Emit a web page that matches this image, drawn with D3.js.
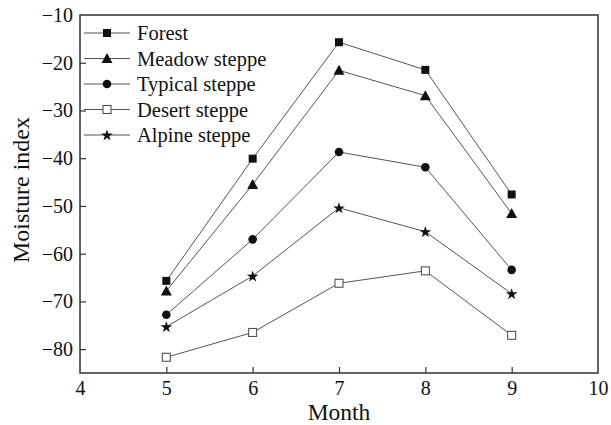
<!DOCTYPE html>
<html>
<head>
<meta charset="utf-8">
<script src="https://cdn.jsdelivr.net/npm/d3@7"></script>
<style>
  html, body { margin: 0; padding: 0; background: #fff; }
  svg { display: block; font-family: "Liberation Serif", "Times New Roman", serif; }
</style>
</head>
<body>
<svg id="chart" width="611" height="425"></svg>
<script>
// Monthly moisture index by vegetation type
const months = [5, 6, 7, 8, 9];
const seriesNames = ["Forest", "Meadow steppe", "Typical steppe", "Desert steppe", "Alpine steppe"];
const forest        = [-65.7, -40.1, -15.7, -21.5, -47.6];
const meadowSteppe  = [-67.8, -45.5, -21.6, -26.9, -51.6];
const typicalSteppe = [-72.8, -57.0, -38.7, -41.9, -63.4];
const desertSteppe  = [-81.7, -76.5, -66.2, -63.6, -77.1];
const alpineSteppe  = [-75.3, -64.7, -50.4, -55.4, -68.4];
const xTicks = [4, 5, 6, 7, 8, 9, 10];
const yTicks = [-80, -70, -60, -50, -40, -30, -20, -10];

const seriesValues = [forest, meadowSteppe, typicalSteppe, desertSteppe, alpineSteppe];
const markerTypes = ["square", "triangle", "circle", "openSquare", "star"];

const svg = d3.select("#chart");
const m = { left: 80, right: 13, top: 15, bottom: 52 };
const W = 611, H = 425;

const x = d3.scaleLinear().domain([4, 10]).range([m.left, W - m.right]);
const y = d3.scaleLinear().domain([-85, -10]).range([H - m.bottom, m.top]);

const lineColor = "#555";
const fmt = d3.format("d");

// axes with inward ticks
const xAxis = svg.append("g")
  .attr("transform", `translate(0,${H - m.bottom})`)
  .call(d3.axisBottom(x).tickValues(xTicks).tickFormat(fmt).tickSizeInner(-6).tickSizeOuter(0).tickPadding(8));
const yAxis = svg.append("g")
  .attr("transform", `translate(${m.left},0)`)
  .call(d3.axisLeft(y).tickValues(yTicks).tickFormat(fmt).tickSizeInner(-6).tickSizeOuter(0).tickPadding(7));

[xAxis, yAxis].forEach(g => {
  g.select(".domain").remove();
  g.selectAll(".tick line").attr("stroke", "#333").attr("stroke-width", 1.2);
  g.selectAll(".tick text")
    .attr("fill", "#111")
    .style("font-family", "'Liberation Serif', serif")
    .style("font-size", "20px");
});
xAxis.selectAll(".tick line").filter(d => d === 4 || d === 10).remove();
yAxis.selectAll(".tick line").filter(d => d === -10).remove();

// frame
svg.append("rect")
  .attr("x", x(4)).attr("y", y(-10))
  .attr("width", x(10) - x(4)).attr("height", y(-85) - y(-10))
  .attr("fill", "none").attr("stroke", "#333").attr("stroke-width", 1.5);

// axis titles
svg.append("text")
  .attr("x", (x(4) + x(10)) / 2).attr("y", 419.5)
  .attr("text-anchor", "middle")
  .style("font-size", "23.5px").attr("fill", "#111")
  .text("Month");
svg.append("text")
  .attr("transform", `translate(29,${(y(-10) + y(-85)) / 2 - 4}) rotate(-90)`)
  .attr("text-anchor", "middle")
  .style("font-size", "24px").attr("fill", "#111")
  .text("Moisture index");

function drawMarker(g, type, cx, cy) {
  if (type === "square") {
    g.append("rect").attr("x", cx - 4).attr("y", cy - 4).attr("width", 8).attr("height", 8).attr("fill", "#111");
  } else if (type === "openSquare") {
    g.append("rect").attr("x", cx - 4).attr("y", cy - 4).attr("width", 8).attr("height", 8)
      .attr("fill", "#fff").attr("stroke", "#444").attr("stroke-width", 1);
  } else if (type === "circle") {
    g.append("circle").attr("cx", cx).attr("cy", cy).attr("r", 4.3).attr("fill", "#111");
  } else if (type === "triangle") {
    g.append("path").attr("transform", `translate(${cx},${cy})`)
      .attr("d", "M0,-5.5 L5.5,4.5 L-5.5,4.5 Z").attr("fill", "#111");
  } else if (type === "star") {
    g.append("path").attr("transform", `translate(${cx},${cy + 0.5})`)
      .attr("d", d3.symbol(d3.symbolStar, 42)()).attr("fill", "#111");
  }
}

const line = d3.line().x((d, i) => x(months[i])).y(d => y(d));

const plot = svg.append("g");
seriesValues.forEach((vals) => {
  plot.append("path").datum(vals)
    .attr("d", line)
    .attr("fill", "none").attr("stroke", lineColor).attr("stroke-width", 1);
});
seriesValues.forEach((vals, si) => {
  const g = plot.append("g");
  vals.forEach((v, i) => drawMarker(g, markerTypes[si], x(months[i]), y(v)));
});

// legend
const legend = svg.append("g");
const legRows = [33, 58.5, 84, 109.5, 135];
seriesNames.forEach((name, si) => {
  const ly = legRows[si];
  legend.append("line").attr("x1", 84).attr("x2", 130).attr("y1", ly).attr("y2", ly)
    .attr("stroke", lineColor).attr("stroke-width", 1);
  drawMarker(legend, markerTypes[si], 107, ly);
  legend.append("text").attr("x", 137).attr("y", ly + 7)
    .style("font-size", "20.5px").attr("fill", "#111")
    .text(name);
});
</script>
</body>
</html>
